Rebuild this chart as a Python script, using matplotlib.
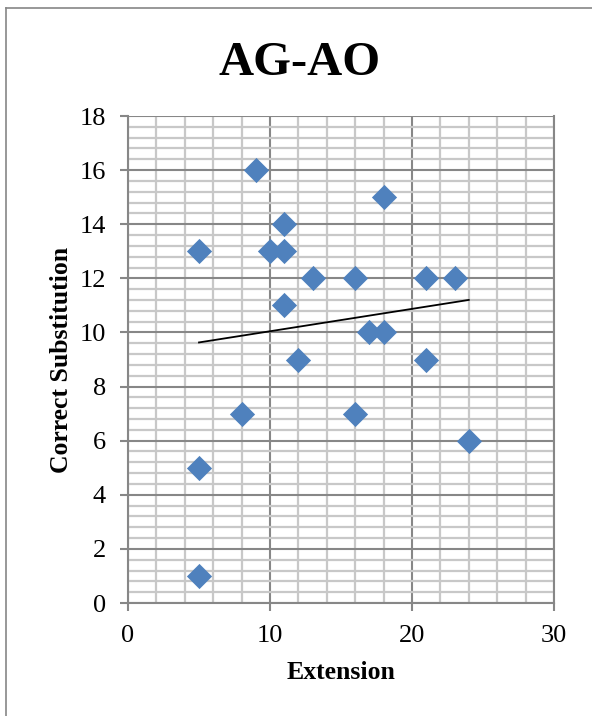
import matplotlib
matplotlib.use("Agg")
import matplotlib.pyplot as plt
from matplotlib.lines import Line2D
from matplotlib.ticker import MultipleLocator
import numpy as np

extension = [5, 9, 11, 10, 11, 13, 16, 18, 21, 23, 11, 17, 18, 12, 21, 8, 16, 24, 5, 5]
correct_sub = [13, 16, 14, 13, 13, 12, 12, 15, 12, 12, 11, 10, 10, 9, 9, 7, 7, 6, 5, 1]
x_ticks = [0, 10, 20, 30]
y_ticks = [0, 2, 4, 6, 8, 10, 12, 14, 16, 18]

plt.rcParams['font.family'] = ['Liberation Serif', 'DejaVu Serif']

fig = plt.figure(figsize=(5.92, 7.16), dpi=100)
ax = fig.add_axes([128/592, 1-603/716, (554-128)/592, (603-116)/716])

major_c = '#878787'
minor_c = '#c8c8c8'
ax.set_xlim(0, 30)
ax.set_ylim(0, 18)
ax.set_xticks(x_ticks)
ax.set_yticks(y_ticks)
ax.xaxis.set_minor_locator(MultipleLocator(2))
ax.yaxis.set_minor_locator(MultipleLocator(0.4))
ax.grid(which='minor', color=minor_c, linewidth=1.6)
ax.grid(which='major', color=major_c, linewidth=1.5)
ax.set_axisbelow(True)
ax.spines['top'].set_visible(False)
for s in ['left', 'bottom', 'right']:
    ax.spines[s].set_color(major_c)
    ax.spines[s].set_linewidth(1.5)
ax.tick_params(which='major', direction='out', length=5.8, width=1.5, color=major_c,
               labelsize=19)
ax.tick_params(axis='x', which='major', pad=10)
ax.tick_params(axis='y', which='major', pad=10)
ax.tick_params(which='minor', length=0)

ax.scatter(extension, correct_sub, marker='D', s=165, color='#4F81BD', zorder=3,
           linewidths=0)

coef = np.polyfit(extension, correct_sub, 1)
xs = np.array([min(extension), max(extension)])
ax.plot(xs, np.polyval(coef, xs), color='black', linewidth=1.3, zorder=4)

ax.set_xlabel('Extension', fontsize=18.5, fontweight='bold', labelpad=10)
ax.set_ylabel('Correct Substitution', fontsize=18.5, fontweight='bold', labelpad=5)
fig.text(300/592, 1-63/716, 'AG-AO', ha='center', va='center', fontsize=35,
         fontweight='bold')

fig.add_artist(Line2D([6/592, 6/592], [0, 1-8/716], transform=fig.transFigure,
                      color='#868686', linewidth=1.2))
fig.add_artist(Line2D([6/592, 1], [1-8/716, 1-8/716], transform=fig.transFigure,
                      color='#868686', linewidth=1.2))

fig.savefig('out.png', dpi=100)
